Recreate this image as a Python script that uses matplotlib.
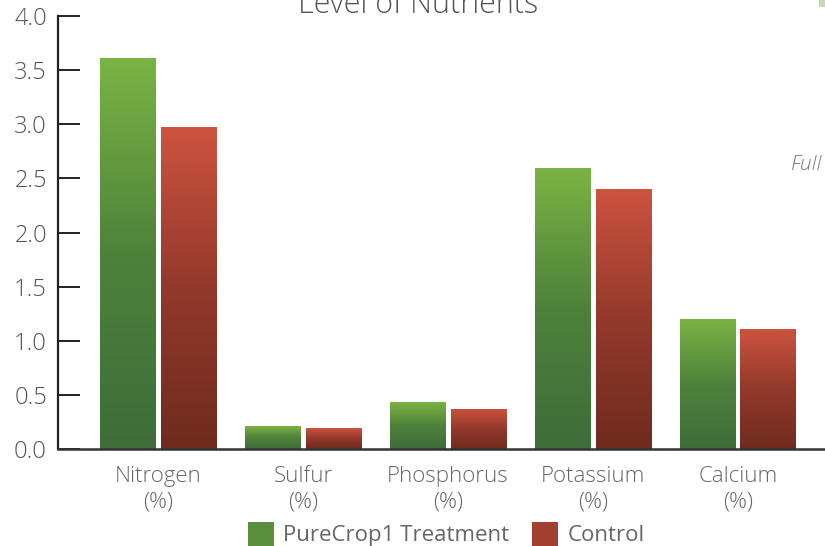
import numpy as np
import matplotlib
matplotlib.use('Agg')
import matplotlib.pyplot as plt
from matplotlib.colors import LinearSegmentedColormap
from matplotlib.patches import Patch, Rectangle

categories = ['Nitrogen\n(%)', 'Sulfur\n(%)', 'Phosphorus\n(%)', 'Potassium\n(%)', 'Calcium\n(%)']
treatment = [3.61, 0.21, 0.43, 2.60, 1.20]
control = [2.97, 0.19, 0.37, 2.40, 1.11]
series_names = ['PureCrop1 Treatment', 'Control']
yticks = [0.0, 0.5, 1.0, 1.5, 2.0, 2.5, 3.0, 3.5, 4.0]

plt.rcParams['font.family'] = ['Open Sans', 'DejaVu Sans']

green_cmap = LinearSegmentedColormap.from_list('g', ['#3f6c39', '#4e823b', '#7bb343'])
red_cmap = LinearSegmentedColormap.from_list('r', ['#6f2b1f', '#93392b', '#cd533f'])


def gradient_bars(ax, x, heights, width, cmap):
	bars = ax.bar(x, heights, width, color='none', edgecolor='none')
	grad = np.linspace(0, 1, 256).reshape(-1, 1)
	for b in bars:
		x0, y0 = b.get_x(), b.get_y()
		w, h = b.get_width(), b.get_height()
		im = ax.imshow(grad, cmap=cmap, origin='lower', aspect='auto',
			extent=[x0, x0 + w, y0, y0 + h], zorder=2)
		im.set_clip_path(b)
	return bars


fig = plt.figure(figsize=(8.25, 5.46), dpi=100)
ax = fig.add_axes([58 / 825, 1 - 449 / 546, 1 - 58 / 825, (449 - 16) / 546])

x = np.arange(len(categories))
w = 56 / 145
off = 30.5 / 145
gradient_bars(ax, x - off, treatment, w, green_cmap)
gradient_bars(ax, x + off, control, w, red_cmap)

ax.set_xlim(-100 / 145, (825 - 158) / 145)
ax.set_ylim(0, 4)
ax.set_yticks(yticks)
ax.set_yticklabels(['%.1f' % t for t in yticks], fontsize=17, color='#555555', fontweight='light')
ax.set_xticks(x)
ax.set_xticklabels(categories, fontsize=16, color='#666666', fontweight='light', linespacing=1.3)
ax.tick_params(axis='y', direction='in', length=16, width=1.4, color='#222222', pad=8)
ax.tick_params(axis='x', length=0, pad=12)

for s in ['top', 'right']:
	ax.spines[s].set_visible(False)
ax.spines['left'].set_color('#222222')
ax.spines['left'].set_linewidth(1.6)
ax.spines['bottom'].set_color('#333333')
ax.spines['bottom'].set_linewidth(1.8)

fig.text(418 / 825, 1 - 5 / 546, 'Level of Nutrients', ha='center', va='center',
	fontsize=22, color='#555555', fontweight='light')
fig.text(822 / 825, 1 - 165 / 546, 'Full', ha='right', va='center', fontsize=15,
	style='italic', color='#777777', fontweight='light')
# clipped marker in the top right corner
fig.patches.append(Rectangle((819 / 825, 1 - 7 / 546), 6 / 825, 7 / 546,
	transform=fig.transFigure, facecolor='#c8d8b4', edgecolor='none'))

handles = [Patch(facecolor='#58903d'), Patch(facecolor='#a1402f')]
fig.legend(handles, series_names, loc='center', bbox_to_anchor=(446 / 825, 1 - 534 / 546),
	ncol=2, frameon=False, fontsize=16, handlelength=1.2, handleheight=1.3,
	handletextpad=0.4, columnspacing=1.0, labelcolor='#666666', borderpad=0.2)

fig.savefig('out.png', dpi=100)
